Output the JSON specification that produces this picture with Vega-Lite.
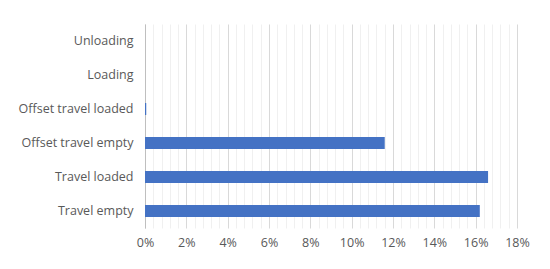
{
  "$schema": "https://vega.github.io/schema/vega-lite/v6.json",
  "autosize": "none",
  "width": 372,
  "height": 204,
  "padding": {"left": 145, "top": 24, "right": 33, "bottom": 41},
  "background": "white",
  "config": {
    "view": {"stroke": null},
    "font": "Open Sans",
    "axis": {"labelFont": "Open Sans", "labelColor": "#595959", "labelFontSize": 12.5}
  },
  "data": {"values": [
    {"activity": "Unloading", "share": 0},
    {"activity": "Loading", "share": 0},
    {"activity": "Offset travel loaded", "share": 0.0006},
    {"activity": "Offset travel empty", "share": 0.116},
    {"activity": "Travel loaded", "share": 0.166},
    {"activity": "Travel empty", "share": 0.162}
  ]},
  "resolve": {"axis": {"x": "independent"}},
  "encoding": {
    "y": {"field": "activity", "type": "nominal", "sort": null,
          "scale": {"paddingInner": 0.65, "paddingOuter": 0.325},
          "axis": {"title": null, "ticks": false, "domain": true, "domainColor": "#bfbfbf", "labelPadding": 12, "grid": false}}
  },
  "layer": [
    {
      "mark": {"type": "bar", "opacity": 0},
      "encoding": {
        "x": {"field": "share", "type": "quantitative",
              "scale": {"domain": [0, 0.18], "nice": false},
              "axis": {"orient": "bottom", "title": null, "labels": false, "ticks": false, "domain": false,
                       "grid": true, "gridColor": "#f0f0f0", "gridWidth": 1,
                       "values": [0.004,0.008,0.012,0.016,0.024,0.028,0.032,0.036,0.044,0.048,0.052,0.056,0.064,0.068,0.072,0.076,0.084,0.088,0.092,0.096,0.104,0.108,0.112,0.116,0.124,0.128,0.132,0.136,0.144,0.148,0.152,0.156,0.164,0.168,0.172,0.176]}}
      }
    },
    {
      "mark": {"type": "bar", "color": "#4472C4"},
      "encoding": {
        "x": {"field": "share", "type": "quantitative",
              "scale": {"domain": [0, 0.18], "nice": false},
              "axis": {"orient": "bottom", "title": null, "format": ".0%", "ticks": false, "domain": false,
                       "grid": true, "gridColor": "#d9d9d9", "labelPadding": 8,
                       "labelAlign": "center", "labelFlush": false,
                       "values": [0,0.02,0.04,0.06,0.08,0.1,0.12,0.14,0.16,0.18]}}
      }
    }
  ]
}
